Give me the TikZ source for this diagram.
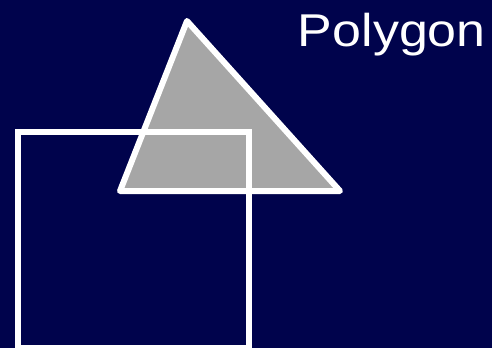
\documentclass[tikz,border=0pt]{standalone}
\usepackage{fontspec}
\setmainfont{Liberation Sans}
\begin{document}
\begin{tikzpicture}[x=1pt, y=-1pt, line join=round, line cap=round]
  \definecolor{sceneNavy}{HTML}{00034C}
  \definecolor{shapeGray}{HTML}{A6A6A6}
  \useasboundingbox[fill=sceneNavy] (0,0) rectangle (492,348);
  \path[fill=shapeGray, draw=white, line width=6pt]
    (187,21) -- (120,191) -- (340,191) -- cycle;
  \draw[white, line width=6pt, line join=miter] (18,132) rectangle (249,348);
  \node[anchor=base east, text=white, inner sep=0pt,
    font=\fontsize{46}{48}\selectfont, xscale=1.13] (title) at (486,46) {Polygon};
\end{tikzpicture}
\end{document}
